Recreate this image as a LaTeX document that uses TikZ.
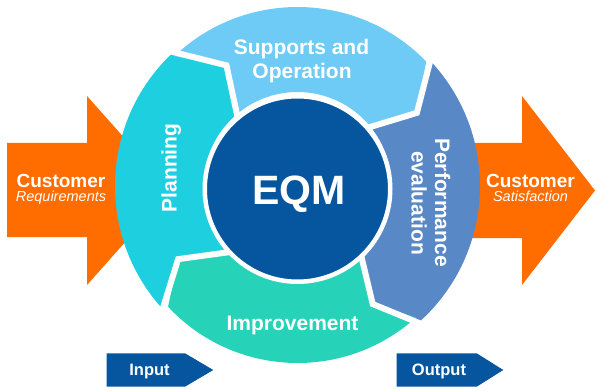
\documentclass[tikz,border=0pt]{standalone}
\usepackage{fontspec}
\setmainfont{Liberation Sans}
\definecolor{orng}{HTML}{FF6D00}
\definecolor{plan}{HTML}{1ECFDF}
\definecolor{supp}{HTML}{6ECBF5}
\definecolor{perf}{HTML}{5889C6}
\definecolor{impr}{HTML}{26D3B8}
\definecolor{dkblue}{HTML}{06559F}
\tikzset{
  seglbl/.style={text=white, inner sep=0pt, anchor=base, font=\fontsize{21}{24}\selectfont\bfseries},
  custlbl/.style={text=white, inner sep=0pt, anchor=base, font=\fontsize{19}{22}\selectfont\bfseries},
  custsub/.style={text=white, inner sep=0pt, anchor=base, font=\fontsize{14.5}{17}\selectfont\itshape},
  iolbl/.style={text=white, inner sep=0pt, anchor=base, font=\fontsize{16.5}{19}\selectfont\bfseries},
  gap/.style={draw=white, line width=6pt, line join=miter, line cap=butt},
}
\begin{document}
\begin{tikzpicture}[x=1pt,y=1pt]
\useasboundingbox (0,0) rectangle (595,389);
% orange arrows
\fill[orng] (7,152) -- (7,246) -- (87,246) -- (87,293) -- (171,198.5) -- (87,104) -- (87,152) -- cycle;
\fill[orng] (440,151) -- (440,246) -- (522,246) -- (522,293) -- (595,198.5) -- (522,104) -- (522,151) -- cycle;
\node[custlbl] (custL) at (61,201.7) {Customer};
\node[custsub] (reqL) at (61,187) {Requirements};
\node[custlbl] (custR) at (530.5,201.7) {Customer};
\node[custsub] (satR) at (530.5,187) {Satisfaction};
% ring pieces
\begin{scope}[shift={(297.5,203)}]
  % Planning: tail B4, head B1
  \fill[plan] (223:182.5) arc[start angle=223, end angle=133.5, radius=182.5]
     -- (120.5:140) -- (131.5:94) arc[start angle=131.5, end angle=226.5, radius=94]
     -- (211.5:140) -- cycle;
  % Supports: tail B1, head B2
  \fill[supp] (133.5:179) arc[start angle=133.5, end angle=44, radius=179]
     -- (31.5:140) -- (40:94) arc[start angle=40, end angle=131.5, radius=94]
     -- (120.5:140) -- cycle;
  % Performance: tail B2, head B3
  \fill[perf] (44:182.5) arc[start angle=44, end angle=-48, radius=182.5]
     -- (-57.5:140) -- (-46:94) arc[start angle=-46, end angle=40, radius=94]
     -- (31.5:140) -- cycle;
  % Improvement: tail B3, head B4
  \fill[impr] (-48:177) arc[start angle=-48, end angle=-137, radius=177]
     -- (-148.5:140) -- (-133.5:94) arc[start angle=-133.5, end angle=-46, radius=94]
     -- (-57.5:140) -- cycle;
  % white gaps
  \draw[gap] (133.5:186) -- (120.5:140) -- (131.5:90);
  \draw[gap] (44:186) -- (31.5:140) -- (40:90);
  \draw[gap] (-48:186) -- (-57.5:140) -- (-46:90);
  \draw[gap] (-137:186) -- (-148.5:140) -- (-133.5:90);
\end{scope}
% centre
\node[circle, fill=dkblue, draw=white, line width=4.5pt, minimum size=185.5pt, inner sep=0pt] (eqm) at (297.5,200) {};
\node[text=white, inner sep=0pt, anchor=base, font=\fontsize{41}{46}\selectfont\bfseries] (eqmt) at (299,184) {EQM};
% segment labels
\node[seglbl] (sup1) at (301.5,334) {Supports and};
\node[seglbl] (sup2) at (302,310) {Operation};
\node[seglbl, rotate=-90] (perf1) at (435,186.5) {Performance};
\node[seglbl, rotate=-90] (perf2) at (411.7,186) {evaluation};
\node[seglbl] (impr1) at (292.5,59) {Improvement};
\node[seglbl, rotate=90] (plan1) at (176.7,221) {Planning};
% input / output
\fill[dkblue] (106.7,2.3) -- (106.7,35.7) -- (185,35.7) -- (213.3,19) -- (185,2.3) -- cycle;
\node[iolbl] (inp) at (149.5,14) {Input};
\fill[dkblue] (396.7,2.3) -- (396.7,35.7) -- (476.7,35.7) -- (503.3,19) -- (476.7,2.3) -- cycle;
\node[iolbl] (outp) at (439,14) {Output};
\end{tikzpicture}
\end{document}
